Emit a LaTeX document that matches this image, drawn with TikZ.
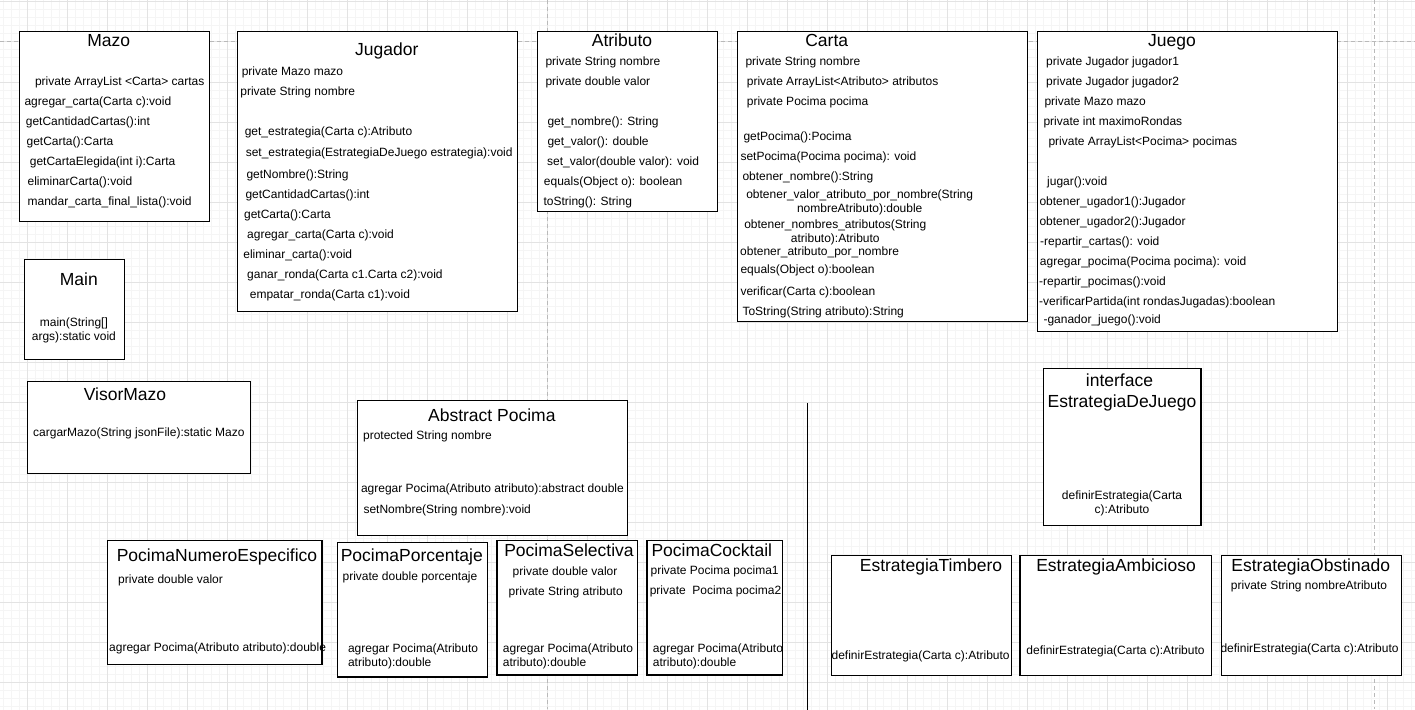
\documentclass[tikz,border=0pt]{standalone}
\usepackage{fontspec}
\setmainfont{Liberation Sans}
\usepackage{tikz}
\def\BodyFont{\fontsize{12}{14}\selectfont}
\def\TitleFont{\fontsize{17.5}{20}\selectfont}
\tikzset{
  umlbox/.style={draw=black, fill=white, line width=1.1pt, anchor=north west, inner sep=0pt, outer sep=0pt},
  boxtitle/.style={font=\TitleFont, inner sep=0pt, anchor=base},
  member/.style={font=\BodyFont, inner sep=0pt, anchor=base west, yshift=-3.8pt},
  cmember/.style={member, anchor=base},
  pagebreak/.style={gray!55, line width=0.8pt, dash pattern=on 4pt off 3pt},
}

\begin{document}
\begin{tikzpicture}[x=1pt,y=-1pt]
	\useasboundingbox (0,0) rectangle (1415,709);
	\clip (0,0) rectangle (1415,709);
	% background grid
	\begin{scope}[y=1pt, shift={(27.3,-1.7)}]
		\draw[gray!8, step=8pt] (-40,-720) grid (1400,8);
		\draw[gray!22, step=40pt] (-40,-720) grid (1400,8);
	\end{scope}
	% page breaks
	\coordinate (ph1) at (0,41.5);
	\coordinate (ph2) at (1415,41.5);
	\coordinate (pv1) at (547.5,0);
	\coordinate (pv2) at (547.5,709);
	\coordinate (pw1) at (1374.3,0);
	\coordinate (pw2) at (1374.3,709);
	\draw[pagebreak] (ph1) -- (ph2);
	\draw[pagebreak] (pv1) -- (pv2);
	\draw[pagebreak] (pw1) -- (pw2);
	% separator
	\coordinate (sept) at (807.5,403.3);
	\coordinate (sepb) at (807.5,712);
	\draw[line width=1pt] (sept) -- (sepb);
	% 
	\node[umlbox, minimum width=190pt, minimum height=190pt] (mazo) at (19.5,31.7) {};
	\node[umlbox, minimum width=280pt, minimum height=280pt] (jugador) at (237.5,31.7) {};
	\node[umlbox, minimum width=180pt, minimum height=180pt] (atributo) at (537.5,31.7) {};
	\node[umlbox, minimum width=290pt, minimum height=290pt] (carta) at (737.5,31.7) {};
	\node[umlbox, minimum width=300pt, minimum height=300pt] (juego) at (1037.5,31.7) {};
	\node[umlbox, minimum width=100pt, minimum height=100pt] (main) at (24.5,259.3) {};
	\node[umlbox, minimum width=223pt, minimum height=92pt] (visor) at (27.3,381.7) {};
	\node[umlbox, minimum width=270pt, minimum height=135pt] (pocima) at (357.5,400.7) {};
	\node[umlbox, minimum width=214.4pt, minimum height=124pt] (pne) at (107.6,540.7) {};
	\node[umlbox, minimum width=150pt, minimum height=134.3pt] (ppo) at (337.5,542.7) {};
	\node[umlbox, minimum width=140.5pt, minimum height=134.3pt] (pse) at (497,540.7) {};
	\node[umlbox, minimum width=135.6pt, minimum height=134.3pt] (pco) at (647,540.7) {};
	\node[umlbox, minimum width=157.6pt, minimum height=157.4pt] (estr) at (1043.4,368.3) {};
	\node[umlbox, minimum width=179.7pt, minimum height=119.6pt] (tim) at (831.8,555.7) {};
	\node[umlbox, minimum width=191.5pt, minimum height=119.6pt] (amb) at (1020,555.7) {};
	\node[umlbox, minimum width=180pt, minimum height=119.6pt] (obs) at (1221.5,555.7) {};
	% Mazo
	\node[boxtitle] (mazot) at (108.8,46.7) {Mazo};
	\node[member] (mazo1) at (34.8,82) {private ArrayList <Carta> cartas};
	\node[member] (mazo2) at (24.3,101.7) {agregar\_carta(Carta c):void};
	\node[member] (mazo3) at (25.7,121.7) {getCantidadCartas():int};
	\node[member] (mazo4) at (26.4,141.7) {getCarta():Carta};
	\node[member] (mazo5) at (29.7,161.7) {getCartaElegida(int i):Carta};
	\node[member] (mazo6) at (27.4,181.7) {eliminarCarta():void};
	\node[member] (mazo7) at (27.4,201.7) {mandar\_carta\_final\_lista():void};
	% Jugador
	\node[boxtitle] (jugadort) at (386.8,55.8) {Jugador};
	\node[member] (jug1) at (241.6,71.7) {private Mazo mazo};
	\node[member] (jug2) at (240.2,91.7) {private String nombre};
	\node[member] (jug3) at (244.6,131.7) {get\_estrategia(Carta c):Atributo};
	\node[member] (jug4) at (245.6,152.7) {set\_estrategia(EstrategiaDeJuego estrategia):void};
	\node[member] (jug5) at (246.3,174.7) {getNombre():String};
	\node[member] (jug6) at (245.3,194.7) {getCantidadCartas():int};
	\node[member] (jug7) at (243.9,214.7) {getCarta():Carta};
	\node[member] (jug8) at (247,234.7) {agregar\_carta(Carta c):void};
	\node[member] (jug9) at (243.2,254.7) {eliminar\_carta():void};
	\node[member] (jug10) at (247,274.7) {ganar\_ronda(Carta c1.Carta c2):void};
	\node[member] (jug11) at (249.7,294.7) {empatar\_ronda(Carta c1):void};
	% Atributo
	\node[boxtitle] (atributot) at (622,46.7) {Atributo};
	\node[member] (atr1) at (545.3,62) {private String nombre};
	\node[member] (atr2) at (545.3,82) {private double valor};
	\node[member] (atr3) at (547.3,121.7) {get\_nombre(): String};
	\node[member] (atr4) at (547.3,141.7) {get\_valor(): double};
	\node[member] (atr5) at (547,161.7) {set\_valor(double valor): void};
	\node[member] (atr6) at (543.7,181.7) {equals(Object o): boolean};
	\node[member] (atr7) at (543.3,201.7) {toString(): String};
	% Carta
	\node[boxtitle] (cartat) at (826.7,46.7) {Carta};
	\node[member] (car1) at (745.3,62) {private String nombre};
	\node[member] (car2) at (746.7,82) {private ArrayList<Atributo> atributos};
	\node[member] (car3) at (746.7,102) {private Pocima pocima};
	\node[member] (car4) at (743.3,136.7) {getPocima():Pocima};
	\node[member] (car5) at (740.3,156.7) {setPocima(Pocima pocima): void};
	\node[member] (car6) at (742.3,176.7) {obtener\_nombre():String};
	\node[cmember] (car7) at (859.7,195) {obtener\_valor\_atributo\_por\_nombre(String};
	\node[cmember] (car8) at (859.7,209) {nombreAtributo):double};
	\node[cmember] (car9) at (835.3,225) {obtener\_nombres\_atributos(String};
	\node[cmember] (car10) at (835.3,239) {atributo):Atributo};
	\node[member] (car11) at (740,251.7) {obtener\_atributo\_por\_nombre};
	\node[member] (car12) at (740.3,270) {equals(Object o):boolean};
	\node[member] (car13) at (740.3,291.7) {verificar(Carta c):boolean};
	\node[member] (car14) at (742.3,311.7) {ToString(String atributo):String};
	% Juego
	\node[boxtitle] (juegot) at (1172,46.7) {Juego};
	\node[member] (jue1) at (1046,62) {private Jugador jugador1};
	\node[member] (jue2) at (1046,82) {private Jugador jugador2};
	\node[member] (jue3) at (1044.3,102) {private Mazo mazo};
	\node[member] (jue4) at (1043.3,121.7) {private int maximoRondas};
	\node[member] (jue5) at (1048.3,141.7) {private ArrayList<Pocima> pocimas};
	\node[member] (jue6) at (1047,181.7) {jugar():void};
	\node[member] (jue7) at (1039.3,201.7) {obtener\_ugador1():Jugador};
	\node[member] (jue8) at (1039.3,221.7) {obtener\_ugador2():Jugador};
	\node[member] (jue9) at (1040,241.7) {-repartir\_cartas(): void};
	\node[member] (jue10) at (1039.7,261.7) {agregar\_pocima(Pocima pocima): void};
	\node[member] (jue11) at (1039,281.7) {-repartir\_pocimas():void};
	\node[member] (jue12) at (1039,301.7) {-verificarPartida(int rondasJugadas):boolean};
	\node[member] (jue13) at (1043.3,320) {-ganador\_juego():void};
	% Main, VisorMazo
	\node[boxtitle] (maint) at (78.8,285) {Main};
	\node[cmember] (main1) at (73.9,322.7) {main(String[]};
	\node[cmember] (main2) at (73.9,336.7) {args):static void};
	\node[boxtitle] (visort) at (125,400.7) {VisorMazo};
	\node[member] (vis1) at (33,433) {cargarMazo(String jsonFile):static Mazo};
	% Pocima
	\node[boxtitle] (pocimat) at (491.8,421) {Abstract Pocima};
	\node[member] (poc1) at (362.9,435.7) {protected String nombre};
	\node[member] (poc2) at (360.8,489) {agregar Pocima(Atributo atributo):abstract double};
	\node[member] (poc3) at (363.3,509.7) {setNombre(String nombre):void};
	% 
	\node[boxtitle] (pnet) at (217,561) {PocimaNumeroEspecifico};
	\node[member] (pne1) at (118,580) {private double valor};
	\node[member] (pne2) at (109,647.7) {agregar Pocima(Atributo atributo):double};
	% 
	\node[boxtitle] (ppot) at (411.8,561) {PocimaPorcentaje};
	\node[member] (ppo1) at (342.4,576.7) {private double porcentaje};
	\node[member] (ppo2) at (347.8,649) {agregar Pocima(Atributo};
	\node[member] (ppo3) at (347.8,663) {atributo):double};
	% 
	\node[boxtitle] (pset) at (569,556) {PocimaSelectiva};
	\node[member] (pse1) at (512.5,571.3) {private double valor};
	\node[member] (pse2) at (508.5,591.3) {private String atributo};
	\node[member] (pse3) at (502.7,649) {agregar Pocima(Atributo};
	\node[member] (pse4) at (502.7,663) {atributo):double};
	% 
	\node[boxtitle] (pcot) at (711.8,556) {PocimaCocktail};
	\node[member] (pco1) at (650.4,571) {private Pocima pocima1};
	\node[member] (pco2) at (649.6,591) {private\ \ Pocima pocima2};
	\node[member] (pco3) at (652.7,649) {agregar Pocima(Atributo};
	\node[member] (pco4) at (652.7,663) {atributo):double};
	% Estrategias
	\node[boxtitle] (estrt) at (1119.5,386) {interface};
	\node[boxtitle] (estrn) at (1122,407) {EstrategiaDeJuego};
	\node[cmember] (estr1) at (1122,496) {definirEstrategia(Carta};
	\node[cmember] (estr2) at (1122,509.7) {c):Atributo};
	% 
	\node[boxtitle] (timt) at (931,571) {EstrategiaTimbero};
	\node[member] (tim1) at (831.4,655.7) {definirEstrategia(Carta c):Atributo};
	\node[boxtitle] (ambt) at (1116,571) {EstrategiaAmbicioso};
	\node[cmember] (amb1) at (1115.5,650.7) {definirEstrategia(Carta c):Atributo};
	\node[boxtitle] (obst) at (1310.7,571) {EstrategiaObstinado};
	\node[cmember] (obs1) at (1309,586) {private String nombreAtributo};
	\node[member] (obs2) at (1220.3,648.7) {definirEstrategia(Carta c):Atributo};
\end{tikzpicture}
\end{document}
